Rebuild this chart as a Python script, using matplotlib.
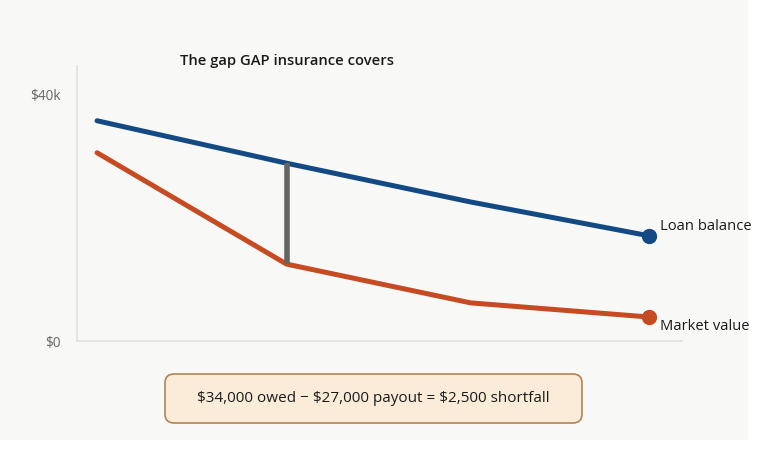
import matplotlib
matplotlib.use("Agg")
import matplotlib.pyplot as plt
from matplotlib.patches import Rectangle, FancyBboxPatch
from matplotlib.transforms import IdentityTransform

# Data
x_years = [0, 1.03, 2.03, 3.0]
loan_balance = [35.8, 28.9, 22.6, 17.1]   # $k
market_value = [30.6, 12.5, 6.2, 3.9]     # $k
gap_index = 1
ytick_vals = [0, 40]
ytick_labels = ["$0", "$40k"]
title = "The gap GAP insurance covers"
series_labels = ["Loan balance", "Market value"]
note = "$34,000 owed \u2212 $27,000 payout = $2,500 shortfall"

plt.rcParams['font.family'] = ['Open Sans', 'DejaVu Sans']

W, H = 768, 451
fig = plt.figure(figsize=(W / 100, H / 100), dpi=100, facecolor="white")

# background panel
fig.add_artist(Rectangle((0, 11 / H), 748 / W, 1 - 11 / H, transform=fig.transFigure,
                         facecolor="#f8f8f6", edgecolor="none", zorder=0))

ax = fig.add_axes([77 / W, (H - 341) / H, (682 - 77) / W, (341 - 66) / H])
ax.set_facecolor("none")
blue = "#134a84"
orange = "#c64a22"

ax.plot(x_years, loan_balance, color=blue, lw=3.6, solid_capstyle="round", zorder=3)
ax.plot(x_years, market_value, color=orange, lw=3.6, solid_capstyle="round", zorder=3)
ax.plot([x_years[-1]], [loan_balance[-1]], "o", color=blue, ms=10, zorder=4)
ax.plot([x_years[-1]], [market_value[-1]], "o", color=orange, ms=10, zorder=4)
ax.plot([x_years[gap_index]] * 2, [loan_balance[gap_index], market_value[gap_index]],
        color="#646462", lw=4, solid_capstyle="butt", zorder=5)

ax.annotate(series_labels[0], (x_years[-1], loan_balance[-1]), xytext=(8, 7),
            textcoords="offset points", ha="left", va="center", fontsize=10.6,
            color="#1a1a1a")
ax.annotate(series_labels[1], (x_years[-1], market_value[-1]), xytext=(8, -6.5),
            textcoords="offset points", ha="left", va="center", fontsize=10.6,
            color="#1a1a1a")

ax.set_xlim(-0.109, 3.179)
ax.set_ylim(0, 44.7)
ax.set_xticks([])
ax.set_yticks(ytick_vals)
ax.set_yticklabels(ytick_labels, fontsize=9.8, color="#666666")
ax.tick_params(axis="y", length=0, pad=11.5)
for s in ["top", "right"]:
    ax.spines[s].set_visible(False)
for s in ["left", "bottom"]:
    ax.spines[s].set_color("#e2e2e0")
    ax.spines[s].set_linewidth(1.3)

fig.text(180 / W, 1 - 61 / H, title, ha="left", va="center", fontsize=10.6,
         fontweight="semibold", color="#1a1a1a")

box = FancyBboxPatch((165, H - 423), 417, 49, boxstyle="round,pad=0,rounding_size=9",
                     transform=IdentityTransform(), facecolor="#fbecd9",
                     edgecolor="#b08450", linewidth=1.2, zorder=2)
fig.add_artist(box)
fig.text(373 / W, 1 - 399 / H, note, ha="center", va="center", fontsize=11,
         color="#1a1a1a", zorder=3)

fig.savefig("out.png", dpi=100, facecolor="white")
